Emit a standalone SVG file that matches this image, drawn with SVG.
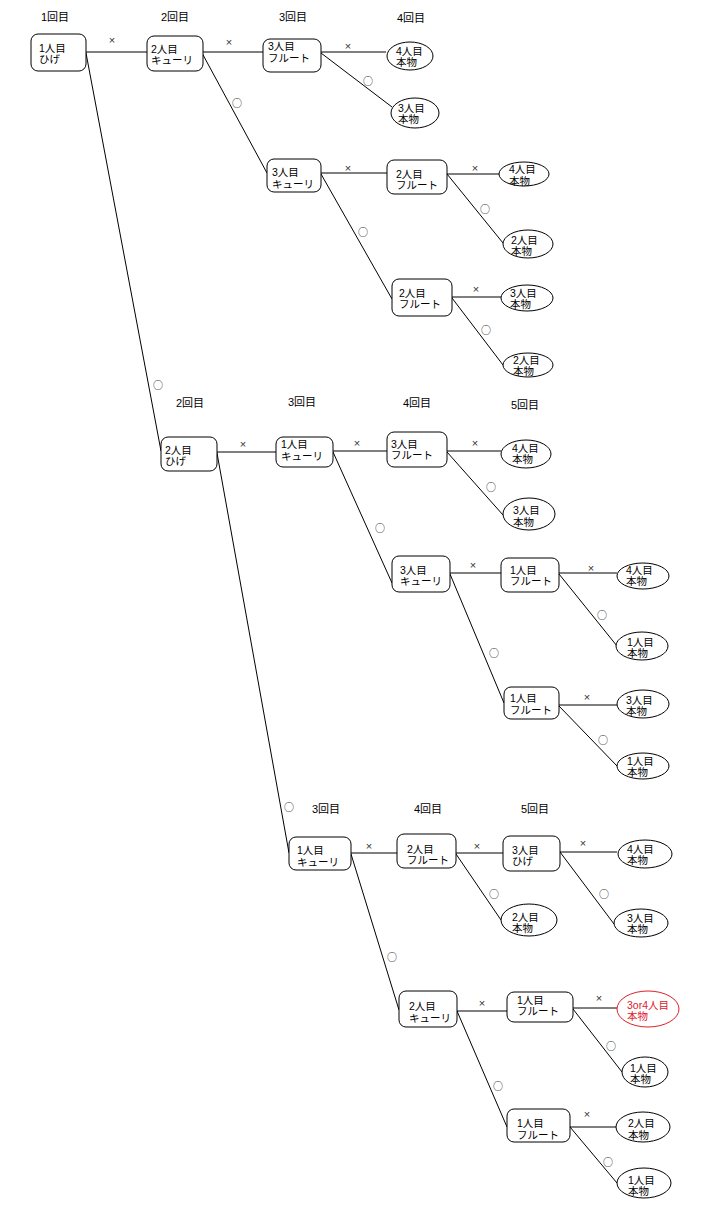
<svg xmlns="http://www.w3.org/2000/svg" width="708" height="1220" viewBox="0 0 708 1220">
<style>
.bg{fill:#fff}
.n rect{fill:#fff;stroke:#000;stroke-width:1}
.n ellipse{fill:#fff;stroke:#000;stroke-width:1}
.red ellipse{stroke:#e0202a}
text{font-family:"Liberation Sans","Noto Sans CJK JP",sans-serif;font-size:10.5px;fill:#000}
.red text{fill:#e0202a}
.lbl{font-size:11px}
#edges line{stroke:#000;stroke-width:1}
.x{font-size:11px;fill:#333;text-anchor:middle}
.o{font-family:"Noto Sans CJK JP",sans-serif;font-size:10px;fill:#222;text-anchor:middle}
</style>
<rect class="bg" x="0" y="0" width="708" height="1220"/>
<g id="edges">
<line x1="86" y1="52" x2="147" y2="52"/>
<line x1="202" y1="52" x2="263" y2="52"/>
<line x1="321" y1="52" x2="386" y2="52"/>
<line x1="321" y1="53" x2="392" y2="107"/>
<line x1="202" y1="53" x2="267" y2="173"/>
<line x1="321" y1="173" x2="387" y2="173"/>
<line x1="447" y1="174" x2="499" y2="174"/>
<line x1="447" y1="174" x2="503" y2="243"/>
<line x1="321" y1="174" x2="392" y2="299"/>
<line x1="452" y1="297" x2="501" y2="297"/>
<line x1="452" y1="298" x2="503" y2="365"/>
<line x1="86" y1="53" x2="161" y2="451"/>
<line x1="217" y1="452" x2="276" y2="452"/>
<line x1="333" y1="451" x2="387" y2="451"/>
<line x1="447" y1="451" x2="501" y2="451"/>
<line x1="447" y1="452" x2="503" y2="515"/>
<line x1="333" y1="452" x2="392" y2="583"/>
<line x1="450" y1="573" x2="501" y2="573"/>
<line x1="559" y1="573" x2="617" y2="573"/>
<line x1="559" y1="574" x2="617" y2="646"/>
<line x1="450" y1="574" x2="504" y2="703"/>
<line x1="559" y1="705" x2="617" y2="705"/>
<line x1="559" y1="706" x2="617" y2="766"/>
<line x1="217" y1="453" x2="289" y2="853"/>
<line x1="351" y1="853" x2="397" y2="853"/>
<line x1="456" y1="853" x2="503" y2="853"/>
<line x1="560" y1="852" x2="617" y2="852"/>
<line x1="560" y1="852" x2="614" y2="924"/>
<line x1="456" y1="854" x2="501" y2="920"/>
<line x1="351" y1="854" x2="399" y2="1010"/>
<line x1="457" y1="1011" x2="507" y2="1011"/>
<line x1="573" y1="1008" x2="617" y2="1008"/>
<line x1="573" y1="1009" x2="622" y2="1072"/>
<line x1="457" y1="1011" x2="507" y2="1127"/>
<line x1="570" y1="1127" x2="616" y2="1127"/>
<line x1="570" y1="1127" x2="617" y2="1183"/>
<text class="x" x="112" y="44">×</text>
<text class="x" x="229" y="46">×</text>
<text class="x" x="348" y="50">×</text>
<text class="o" x="368" y="85">○</text>
<text class="o" x="237" y="107">○</text>
<text class="x" x="348" y="172">×</text>
<text class="x" x="475" y="172">×</text>
<text class="o" x="485" y="213">○</text>
<text class="o" x="363" y="236">○</text>
<text class="x" x="476" y="293">×</text>
<text class="o" x="486" y="334">○</text>
<text class="o" x="158" y="389">○</text>
<text class="x" x="243" y="448">×</text>
<text class="x" x="357" y="447">×</text>
<text class="x" x="475" y="447">×</text>
<text class="o" x="491" y="491">○</text>
<text class="o" x="380" y="532">○</text>
<text class="x" x="473" y="569">×</text>
<text class="x" x="591" y="572">×</text>
<text class="o" x="602" y="619">○</text>
<text class="o" x="494" y="657">○</text>
<text class="x" x="587" y="701">×</text>
<text class="o" x="603" y="744">○</text>
<text class="o" x="289" y="811">○</text>
<text class="x" x="369" y="850">×</text>
<text class="x" x="477" y="850">×</text>
<text class="x" x="583" y="847">×</text>
<text class="o" x="604" y="898">○</text>
<text class="o" x="494" y="898">○</text>
<text class="o" x="392" y="961">○</text>
<text class="x" x="482" y="1007">×</text>
<text class="x" x="599" y="1002">×</text>
<text class="o" x="611" y="1050">○</text>
<text class="o" x="498" y="1090">○</text>
<text class="x" x="587" y="1118">×</text>
<text class="o" x="608" y="1166">○</text>
</g>
<g id="round-labels">
<text class="lbl" x="41" y="21">1回目</text>
<text class="lbl" x="161" y="21">2回目</text>
<text class="lbl" x="279" y="21">3回目</text>
<text class="lbl" x="397" y="22">4回目</text>
<text class="lbl" x="176" y="407">2回目</text>
<text class="lbl" x="288" y="406">3回目</text>
<text class="lbl" x="403" y="407">4回目</text>
<text class="lbl" x="511" y="409">5回目</text>
<text class="lbl" x="312" y="813">3回目</text>
<text class="lbl" x="414" y="813">4回目</text>
<text class="lbl" x="521" y="813">5回目</text>
</g>
<g id="n1" class="n"><rect x="31" y="34" width="55" height="37" rx="7"/><text x="39" y="52">1人目<tspan x="39" dy="11">ひげ</tspan></text></g>
<g id="n2" class="n"><rect x="147" y="36" width="56" height="35" rx="7"/><text x="151" y="53">2人目<tspan x="151" dy="11">キューリ</tspan></text></g>
<g id="n3" class="n"><rect x="263" y="39" width="58" height="33" rx="7"/><text x="268" y="50">3人目<tspan x="268" dy="12">フルート</tspan></text></g>
<g id="e1" class="n"><ellipse cx="410" cy="56" rx="23" ry="14"/><text x="396" y="55">4人目<tspan x="396" dy="11">本物</tspan></text></g>
<g id="e2" class="n"><ellipse cx="415" cy="113" rx="24" ry="15"/><text x="398" y="112">3人目<tspan x="398" dy="11">本物</tspan></text></g>
<g id="n4" class="n"><rect x="267" y="159" width="54" height="33" rx="7"/><text x="272" y="176">3人目<tspan x="272" dy="12">キューリ</tspan></text></g>
<g id="n5" class="n"><rect x="387" y="160" width="60" height="34" rx="7"/><text x="396" y="178">2人目<tspan x="396" dy="11">フルート</tspan></text></g>
<g id="e3" class="n"><ellipse cx="524" cy="174" rx="25" ry="12"/><text x="509" y="173">4人目<tspan x="509" dy="12">本物</tspan></text></g>
<g id="e4" class="n"><ellipse cx="528" cy="244" rx="25" ry="14"/><text x="511" y="244">2人目<tspan x="511" dy="11">本物</tspan></text></g>
<g id="n6" class="n"><rect x="392" y="279" width="60" height="37" rx="7"/><text x="399" y="297">2人目<tspan x="399" dy="11">フルート</tspan></text></g>
<g id="e5" class="n"><ellipse cx="527" cy="298" rx="26" ry="13"/><text x="510" y="297">3人目<tspan x="510" dy="11">本物</tspan></text></g>
<g id="e6" class="n"><ellipse cx="528" cy="365" rx="25" ry="12"/><text x="513" y="364">2人目<tspan x="513" dy="11">本物</tspan></text></g>
<g id="n7" class="n"><rect x="161" y="437" width="56" height="34" rx="7"/><text x="165" y="454">2人目<tspan x="165" dy="11">ひげ</tspan></text></g>
<g id="n8" class="n"><rect x="276" y="437" width="57" height="30" rx="7"/><text x="281" y="448">1人目<tspan x="281" dy="12">キューリ</tspan></text></g>
<g id="n9" class="n"><rect x="387" y="432" width="60" height="35" rx="7"/><text x="391" y="448">3人目<tspan x="391" dy="11">フルート</tspan></text></g>
<g id="e7" class="n"><ellipse cx="526" cy="454" rx="25" ry="14"/><text x="512" y="452">4人目<tspan x="512" dy="11">本物</tspan></text></g>
<g id="e8" class="n"><ellipse cx="529" cy="514" rx="26" ry="16"/><text x="513" y="514">3人目<tspan x="513" dy="12">本物</tspan></text></g>
<g id="n10" class="n"><rect x="392" y="556" width="58" height="36" rx="7"/><text x="400" y="574">3人目<tspan x="400" dy="11">キューリ</tspan></text></g>
<g id="n11" class="n"><rect x="501" y="558" width="58" height="34" rx="7"/><text x="510" y="574">1人目<tspan x="510" dy="11">フルート</tspan></text></g>
<g id="e9" class="n"><ellipse cx="643" cy="576" rx="26" ry="13"/><text x="626" y="574">4人目<tspan x="626" dy="11">本物</tspan></text></g>
<g id="e10" class="n"><ellipse cx="642" cy="646" rx="26" ry="14"/><text x="627" y="646">1人目<tspan x="627" dy="11">本物</tspan></text></g>
<g id="n12" class="n"><rect x="504" y="687" width="55" height="32" rx="7"/><text x="510" y="702">1人目<tspan x="510" dy="12">フルート</tspan></text></g>
<g id="e11" class="n"><ellipse cx="643" cy="704" rx="26" ry="14"/><text x="626" y="704">3人目<tspan x="626" dy="11">本物</tspan></text></g>
<g id="e12" class="n"><ellipse cx="643" cy="766" rx="26" ry="13"/><text x="627" y="765">1人目<tspan x="627" dy="11">本物</tspan></text></g>
<g id="n13" class="n"><rect x="289" y="837" width="62" height="33" rx="7"/><text x="297" y="854">1人目<tspan x="297" dy="12">キューリ</tspan></text></g>
<g id="n14" class="n"><rect x="397" y="834" width="59" height="34" rx="7"/><text x="407" y="853">2人目<tspan x="407" dy="11">フルート</tspan></text></g>
<g id="n15" class="n"><rect x="503" y="836" width="57" height="35" rx="7"/><text x="512" y="854">3人目<tspan x="512" dy="11">ひげ</tspan></text></g>
<g id="e13" class="n"><ellipse cx="645" cy="854" rx="27" ry="14"/><text x="627" y="853">4人目<tspan x="627" dy="11">本物</tspan></text></g>
<g id="e14" class="n"><ellipse cx="641" cy="923" rx="27" ry="14"/><text x="627" y="922">3人目<tspan x="627" dy="11">本物</tspan></text></g>
<g id="e15" class="n"><ellipse cx="529" cy="920" rx="28" ry="16"/><text x="512" y="921">2人目<tspan x="512" dy="11">本物</tspan></text></g>
<g id="n16" class="n"><rect x="399" y="991" width="58" height="36" rx="7"/><text x="409" y="1010">2人目<tspan x="409" dy="12">キューリ</tspan></text></g>
<g id="n17" class="n"><rect x="507" y="992" width="66" height="30" rx="7"/><text x="517" y="1004">1人目<tspan x="517" dy="11">フルート</tspan></text></g>
<g id="e16" class="n red"><ellipse cx="648" cy="1009" rx="31" ry="18"/><text x="627" y="1009">3or4人目<tspan x="627" dy="11">本物</tspan></text></g>
<g id="e17" class="n"><ellipse cx="645" cy="1072" rx="23" ry="15"/><text x="630" y="1072">1人目<tspan x="630" dy="11">本物</tspan></text></g>
<g id="n18" class="n"><rect x="507" y="1109" width="63" height="33" rx="7"/><text x="517" y="1127">1人目<tspan x="517" dy="12">フルート</tspan></text></g>
<g id="e18" class="n"><ellipse cx="643" cy="1127" rx="27" ry="15"/><text x="628" y="1127">2人目<tspan x="628" dy="12">本物</tspan></text></g>
<g id="e19" class="n"><ellipse cx="644" cy="1183" rx="27" ry="15"/><text x="628" y="1184">1人目<tspan x="628" dy="11">本物</tspan></text></g>
</svg>
